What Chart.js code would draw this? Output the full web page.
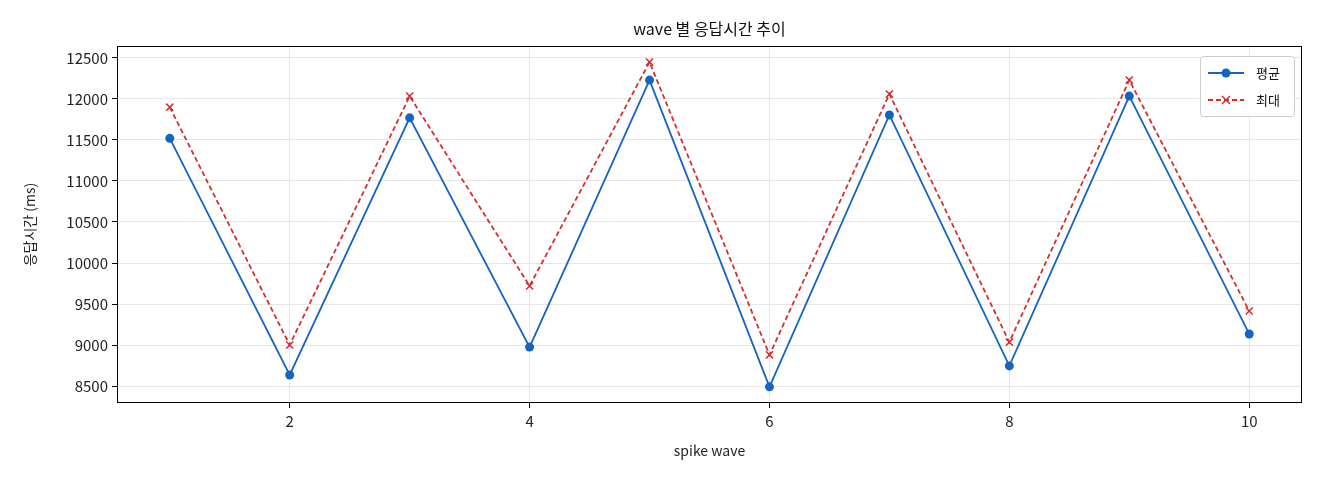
<!DOCTYPE html>
<html><head><meta charset="utf-8">
<script src="https://cdn.jsdelivr.net/npm/chart.js@4"></script>
<style>body{margin:0;background:#fff}#w{width:1320px;height:480px}</style>
</head><body><div id="w"><canvas id="c"></canvas></div>
<script>
const waves=[1,2,3,4,5,6,7,8,9,10];
const avgMs=[11520,8635,11770,8975,12230,8490,11805,8745,12035,9135];
const maxMs=[11900,9000,12035,9720,12450,8880,12060,9035,12230,9415];
const yTicks=[8500,9000,9500,10000,10500,11000,11500,12000,12500];
const xTicks=[2,4,6,8,10];
const F='"Noto Sans CJK KR","Noto Sans",sans-serif';
Chart.defaults.font.family=F;Chart.defaults.color='#222';
const deco={id:'deco',afterDraw(ch){const c=ch.ctx,a=ch.chartArea;c.save();
c.fillStyle='#111';c.font='16px '+F;c.textAlign='center';c.textBaseline='middle';
c.fillText('wave 별 응답시간 추이',(a.left+a.right)/2,29);
c.font='14px '+F;c.fillStyle='#222';
c.fillText('spike wave',(a.left+a.right)/2,451);
c.save();c.translate(30,(a.top+a.bottom)/2);c.rotate(-Math.PI/2);c.fillText('응답시간 (ms)',0,0);c.restore();
c.strokeStyle='#000';c.lineWidth=1;c.strokeRect(a.left+.5,a.top+.5,a.right-a.left-1,a.bottom-a.top-1);
const bx=1200,by=56,bw=94,bh=60;c.fillStyle='#fff';c.strokeStyle='#ccc';
c.beginPath();c.roundRect(bx+.5,by+.5,bw,bh,3);c.fill();c.stroke();
const items=[['평균','#1565c0',[],'c'],['최대','#d32f2f',[5,3],'x']];
items.forEach((it,i)=>{const y=by+17+i*27;c.strokeStyle=it[1];c.lineWidth=1.8;c.setLineDash(it[2]);
c.beginPath();c.moveTo(bx+8,y);c.lineTo(bx+44,y);c.stroke();c.setLineDash([]);
if(it[3]=='c'){c.fillStyle=it[1];c.beginPath();c.arc(bx+26,y,4.5,0,7);c.fill();}
else{c.lineWidth=1.5;c.beginPath();c.moveTo(bx+22,y-4);c.lineTo(bx+30,y+4);c.moveTo(bx+30,y-4);c.lineTo(bx+22,y+4);c.stroke();}
c.fillStyle='#111';c.font='13px '+F;c.textAlign='left';c.fillText(it[0],bx+56,y);});
c.restore();}};
new Chart(document.getElementById('c'),{type:'line',
data:{datasets:[
{label:'평균',data:waves.map((x,i)=>({x,y:avgMs[i]})),borderColor:'#1565c0',backgroundColor:'#1565c0',borderWidth:1.8,pointRadius:4.5,pointStyle:'circle',pointBorderWidth:0},
{label:'최대',data:waves.map((x,i)=>({x,y:maxMs[i]})),borderColor:'#d32f2f',backgroundColor:'#d32f2f',borderWidth:1.8,borderDash:[5,3],pointRadius:5,pointStyle:'crossRot',pointBorderWidth:1.5}]},
options:{responsive:true,maintainAspectRatio:false,animation:false,
layout:{padding:{top:46,right:18,left:0,bottom:0}},
plugins:{legend:{display:false},tooltip:{enabled:false}},
scales:{
x:{type:'linear',min:0.56,max:10.44,afterBuildTicks:s=>{s.ticks=xTicks.map(v=>({value:v}))},
afterFit:s=>{s.height=77},
grid:{color:'#e6e6e6',tickLength:5,tickColor:'#000'},border:{display:false},
ticks:{font:{size:15},color:'#222',padding:4}},
y:{min:8293,max:12646,afterBuildTicks:s=>{s.ticks=yTicks.map(v=>({value:v}))},
afterFit:s=>{s.width=117},
grid:{color:'#e6e6e6',tickLength:5,tickColor:'#000'},border:{display:false},
ticks:{font:{size:15},color:'#222',padding:4,callback:v=>String(v)}}}},
plugins:[deco]});
</script></body></html>
